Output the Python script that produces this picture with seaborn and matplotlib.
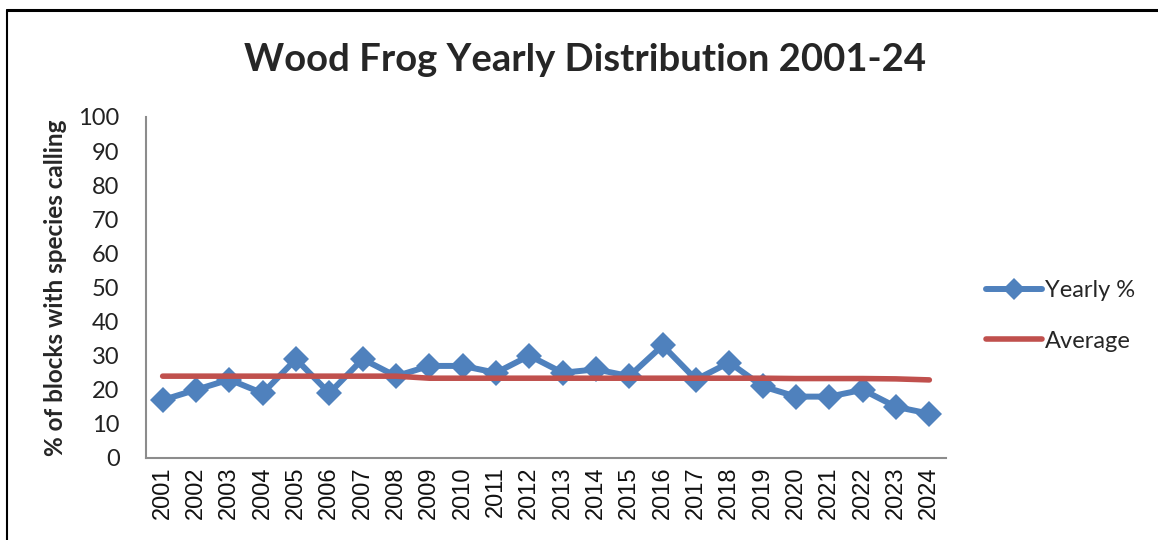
import numpy as np
import pandas as pd
import matplotlib
matplotlib.use("Agg")
import matplotlib.pyplot as plt
import seaborn as sns
from matplotlib.lines import Line2D

years = [str(y) for y in range(2001, 2025)]
yearly_pct = [17, 20, 23, 19, 29, 19, 29, 24, 27, 27, 25, 30, 25, 26, 24, 33, 23, 28, 21, 18, 18, 20, 15, 13]
average = [24.0, 24.0, 24.0, 24.0, 24.0, 24.0, 24.0, 24.0, 23.4, 23.4, 23.4, 23.4, 23.4, 23.4, 23.4, 23.4,
           23.4, 23.4, 23.4, 23.3, 23.3, 23.3, 23.2, 22.9]
y_ticks = list(range(0, 101, 10))

title = "Wood Frog Yearly Distribution 2001-24"
ylabel = "% of blocks with species calling"

sns.set_theme(style="white")
plt.rcParams['font.family'] = ['Lato', 'DejaVu Sans']

blue = "#4F81BD"
red = "#C0504D"

df = pd.DataFrame({"year": years, "Yearly %": yearly_pct, "Average": average})

fig = plt.figure(figsize=(11.58, 5.4), dpi=100)
ax = fig.add_axes([146/1158, 82/540, 800/1158, 341/540])

sns.lineplot(data=df, x="year", y="Yearly %", ax=ax, color=blue, linewidth=4.3,
             marker="D", markersize=13, markeredgewidth=0, sort=False, zorder=2)
sns.lineplot(data=df, x="year", y="Average", ax=ax, color=red, linewidth=4.0,
             sort=False, zorder=3)

ax.set_xlim(-0.5, len(years) - 0.5)
ax.set_ylim(0, 100)
ax.set_yticks(y_ticks)
ax.set_yticklabels([str(t) for t in y_ticks], fontsize=17, color="#222222")
ax.set_xticks(range(len(years)))
ax.set_xticklabels(years, rotation=90, fontsize=17, family="Liberation Sans", color="#111111")
ax.tick_params(axis="y", length=0, pad=19)
ax.tick_params(axis="x", length=0, pad=6)
ax.set_xlabel("")
ax.set_ylabel(ylabel, fontsize=17.5, fontweight="bold", labelpad=8)

for s in ["top", "right"]:
    ax.spines[s].set_visible(False)
for s in ["left", "bottom"]:
    ax.spines[s].set_color("#8c8c8c")
    ax.spines[s].set_linewidth(1.5)

fig.text(585/1158, 1 - 60/540, title, ha="center", va="center", fontsize=27.5, fontweight="bold")

handles = [Line2D([0], [0], color=blue, lw=4.3, marker="D", markersize=11, markeredgewidth=0),
           Line2D([0], [0], color=red, lw=4.0)]
fig.legend(handles, ["Yearly %", "Average"], loc="center left",
           bbox_to_anchor=(965/1158, 1 - 316/540), frameon=False, fontsize=17,
           handlelength=2.35, handletextpad=0.15, labelspacing=1.25, numpoints=1)

# outer frame lines
fig.add_artist(Line2D([7/1158, 1.0], [1 - 10/540, 1 - 10/540], color="black", lw=2.2, transform=fig.transFigure))
fig.add_artist(Line2D([7/1158, 7/1158], [0.0, 1 - 10/540], color="black", lw=1.5, transform=fig.transFigure))

fig.savefig("out.png", dpi=100)
